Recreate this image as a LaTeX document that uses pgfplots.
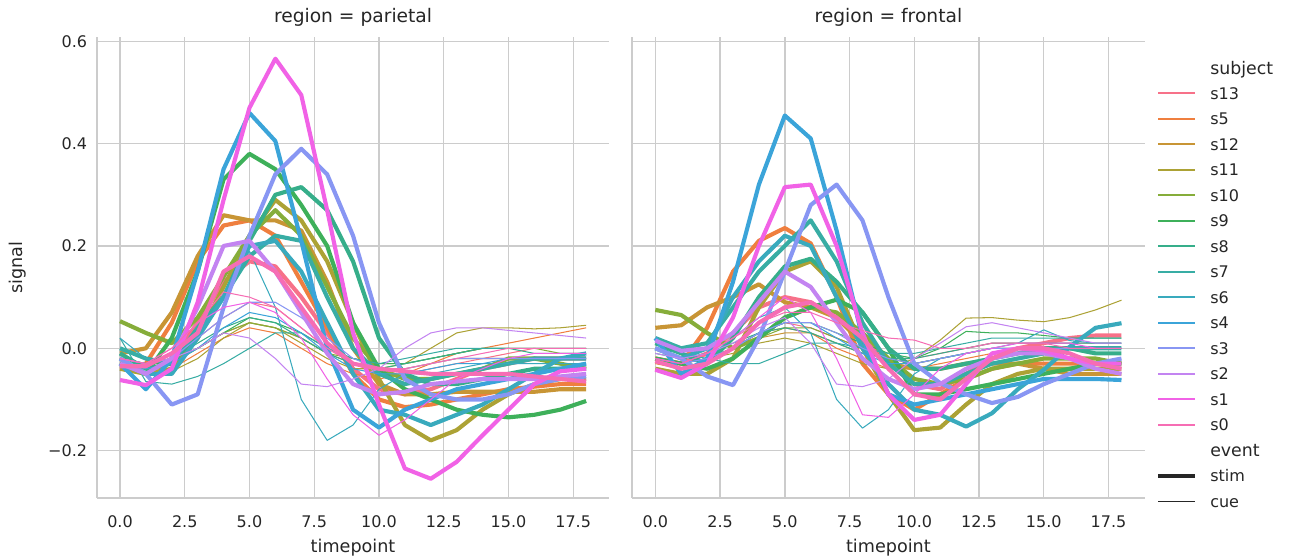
\documentclass[border=0pt]{standalone}
\usepackage{fontspec}
\setmainfont{DejaVu Sans}
\usepackage{pgfplots}
\usepackage{pgfplotstable}
\pgfplotsset{compat=1.18}

% subject colours (husl palette, 14 levels)
\definecolor{cs13}{HTML}{F77189}
\definecolor{cs5}{HTML}{EF7F3F}
\definecolor{cs12}{HTML}{C89535}
\definecolor{cs11}{HTML}{ACA235}
\definecolor{cs10}{HTML}{86AD3A}
\definecolor{cs9}{HTML}{3EB05A}
\definecolor{cs8}{HTML}{36AE8A}
\definecolor{cs7}{HTML}{38ADA4}
\definecolor{cs6}{HTML}{39AABD}
\definecolor{cs4}{HTML}{3BA4D9}
\definecolor{cs3}{HTML}{8896F3}
\definecolor{cs2}{HTML}{C384F1}
\definecolor{cs1}{HTML}{F162E6}
\definecolor{cs0}{HTML}{F66DB4}
\definecolor{gridc}{HTML}{CCCCCC}
\definecolor{textc}{HTML}{262626}

% one row per subject, one column per timepoint 0..18
\pgfplotstableread{
subj c0 c1 c2 c3 c4 c5 c6 c7 c8 c9 c10 c11 c12 c13 c14 c15 c16 c17 c18
s13 -0.03 -0.05 -0.02 0.05 0.13 0.17 0.16 0.10 0.03 -0.04 -0.08 -0.09 -0.08 -0.06 -0.04 -0.03 -0.02 -0.02 -0.02
s5 -0.04 -0.03 0.05 0.17 0.24 0.25 0.22 0.13 0.04 -0.05 -0.10 -0.115 -0.11 -0.10 -0.09 -0.08 -0.075 -0.07 -0.07
s12 -0.01 0.0 0.07 0.18 0.26 0.25 0.25 0.23 0.13 0.0 -0.07 -0.09 -0.09 -0.085 -0.085 -0.085 -0.085 -0.08 -0.08
s11 -0.04 -0.05 -0.04 0.02 0.12 0.22 0.29 0.25 0.17 0.05 -0.06 -0.15 -0.18 -0.16 -0.12 -0.09 -0.07 -0.06 -0.06
s10 0.053 0.03 0.01 0.06 0.14 0.22 0.27 0.22 0.12 0.02 -0.04 -0.06 -0.06 -0.05 -0.04 -0.02 -0.02 -0.03 -0.04
s9 -0.03 -0.05 0.02 0.15 0.33 0.38 0.35 0.28 0.20 0.05 -0.04 -0.08 -0.10 -0.12 -0.13 -0.135 -0.13 -0.12 -0.103
s8 -0.01 -0.04 -0.03 0.03 0.10 0.21 0.30 0.315 0.27 0.17 0.02 -0.05 -0.07 -0.07 -0.06 -0.05 -0.04 -0.04 -0.04
s7 0.0 -0.02 -0.03 0.04 0.10 0.18 0.22 0.21 0.10 0.0 -0.05 -0.07 -0.06 -0.05 -0.04 -0.03 -0.02 -0.02 -0.02
s6 -0.02 -0.05 -0.05 0.02 0.10 0.20 0.21 0.15 0.05 -0.05 -0.12 -0.13 -0.15 -0.13 -0.11 -0.08 -0.05 -0.02 -0.01
s4 -0.03 -0.08 -0.02 0.15 0.35 0.46 0.405 0.21 0.0 -0.12 -0.155 -0.12 -0.10 -0.08 -0.07 -0.06 -0.05 -0.04 -0.03
s3 -0.02 -0.05 -0.11 -0.09 0.08 0.22 0.34 0.39 0.34 0.22 0.05 -0.06 -0.09 -0.10 -0.10 -0.09 -0.07 -0.06 -0.055
s2 -0.03 -0.05 -0.02 0.08 0.20 0.21 0.15 0.07 -0.01 -0.07 -0.09 -0.085 -0.07 -0.065 -0.06 -0.06 -0.06 -0.055 -0.05
s1 -0.062 -0.072 -0.04 0.09 0.29 0.47 0.566 0.495 0.27 0.03 -0.11 -0.235 -0.255 -0.222 -0.17 -0.12 -0.07 -0.045 -0.04
s0 -0.035 -0.035 -0.01 0.03 0.15 0.18 0.15 0.08 0.01 -0.03 -0.04 -0.045 -0.05 -0.05 -0.05 -0.05 -0.055 -0.06 -0.065
}\parStimRows

\pgfplotstableread{
subj c0 c1 c2 c3 c4 c5 c6 c7 c8 c9 c10 c11 c12 c13 c14 c15 c16 c17 c18
s13 -0.02 -0.03 -0.02 0.02 0.06 0.09 0.08 0.04 0.0 -0.03 -0.05 -0.05 -0.04 -0.03 -0.02 -0.01 0.0 0.0 0.0
s5 -0.03 -0.04 -0.04 -0.01 0.02 0.04 0.03 0.0 -0.03 -0.05 -0.06 -0.05 -0.03 -0.01 0.0 0.01 0.02 0.03 0.04
s12 -0.03 -0.04 -0.03 0.0 0.03 0.05 0.04 0.02 -0.01 -0.03 -0.04 -0.04 -0.03 -0.02 -0.02 -0.02 -0.02 -0.02 -0.02
s11 -0.04 -0.05 -0.045 -0.02 0.02 0.05 0.04 0.01 -0.02 -0.04 -0.04 -0.03 0.0 0.03 0.04 0.04 0.038 0.04 0.045
s10 -0.02 -0.03 -0.02 0.0 0.03 0.05 0.04 0.02 -0.01 -0.02 -0.03 -0.03 -0.02 -0.01 0.0 0.0 0.0 -0.01 -0.01
s9 -0.02 -0.03 -0.03 0.0 0.03 0.06 0.05 0.03 0.0 -0.02 -0.03 -0.03 -0.02 -0.01 0.0 0.0 0.0 0.0 0.0
s8 -0.02 -0.03 -0.02 0.01 0.04 0.06 0.05 0.02 -0.01 -0.03 -0.04 -0.03 -0.02 -0.01 0.0 0.0 -0.01 -0.01 -0.01
s7 0.02 -0.065 -0.07 -0.055 -0.03 0.0 0.03 0.03 0.0 -0.02 -0.03 -0.02 -0.01 0.0 0.0 0.0 0.0 0.0 0.0
s6 0.02 -0.02 -0.03 0.03 0.10 0.19 0.08 -0.10 -0.18 -0.15 -0.08 -0.05 -0.05 -0.04 -0.03 -0.03 -0.03 -0.03 -0.03
s4 -0.03 -0.04 -0.03 0.0 0.04 0.07 0.06 0.03 -0.01 -0.04 -0.05 -0.05 -0.04 -0.03 -0.03 -0.02 -0.02 -0.02 -0.02
s3 -0.02 -0.03 -0.02 0.02 0.06 0.09 0.09 0.06 0.02 -0.02 -0.04 -0.04 -0.03 -0.02 -0.02 -0.02 -0.02 -0.02 -0.02
s2 -0.02 -0.03 -0.02 0.0 0.03 0.02 -0.02 -0.07 -0.075 -0.06 -0.04 0.0 0.03 0.04 0.04 0.035 0.03 0.025 0.02
s1 -0.02 -0.03 0.0 0.05 0.08 0.09 0.07 0.02 -0.06 -0.13 -0.17 -0.14 -0.10 -0.06 -0.04 -0.02 -0.01 -0.01 -0.01
s0 -0.02 -0.03 0.0 0.05 0.11 0.10 0.08 0.04 0.0 -0.03 -0.04 -0.04 -0.03 -0.02 -0.01 0.0 0.0 0.0 0.0
}\parCueRows

\pgfplotstableread{
subj c0 c1 c2 c3 c4 c5 c6 c7 c8 c9 c10 c11 c12 c13 c14 c15 c16 c17 c18
s13 -0.02 -0.03 -0.01 0.03 0.08 0.10 0.09 0.06 0.02 -0.03 -0.07 -0.08 -0.05 -0.02 0.0 0.01 0.02 0.025 0.025
s5 -0.02 -0.03 0.04 0.15 0.21 0.235 0.205 0.10 -0.03 -0.09 -0.12 -0.09 -0.06 -0.04 -0.03 -0.03 -0.03 -0.03 -0.03
s12 0.04 0.045 0.08 0.10 0.125 0.09 0.08 0.06 0.01 -0.03 -0.04 -0.04 -0.03 -0.03 -0.03 -0.04 -0.05 -0.05 -0.05
s11 -0.04 -0.05 -0.05 -0.02 0.08 0.15 0.17 0.12 0.0 -0.09 -0.16 -0.155 -0.11 -0.07 -0.05 -0.04 -0.04 -0.04 -0.04
s10 0.075 0.065 0.03 0.0 0.02 0.06 0.08 0.07 0.03 -0.02 -0.06 -0.07 -0.06 -0.04 -0.03 -0.02 -0.02 -0.02 -0.03
s9 -0.02 -0.03 -0.04 -0.02 0.02 0.06 0.08 0.095 0.07 0.0 -0.09 -0.09 -0.08 -0.07 -0.06 -0.05 -0.04 -0.03 -0.03
s8 0.01 -0.01 -0.03 0.02 0.10 0.16 0.175 0.13 0.07 0.0 -0.04 -0.04 -0.03 -0.02 -0.01 0.0 0.0 -0.01 -0.01
s7 0.02 0.0 0.01 0.08 0.15 0.20 0.25 0.17 0.05 -0.03 -0.07 -0.07 -0.05 -0.03 -0.02 -0.01 0.0 0.0 0.0
s6 0.0 -0.02 0.0 0.10 0.17 0.22 0.20 0.10 0.0 -0.07 -0.12 -0.13 -0.153 -0.127 -0.08 -0.042 0.003 0.04 0.049
s4 0.02 -0.05 -0.02 0.13 0.32 0.455 0.41 0.23 0.02 -0.09 -0.11 -0.10 -0.09 -0.08 -0.07 -0.06 -0.06 -0.06 -0.062
s3 0.0 -0.02 -0.055 -0.072 0.02 0.15 0.28 0.32 0.25 0.10 -0.03 -0.068 -0.09 -0.107 -0.095 -0.07 -0.05 -0.03 -0.02
s2 0.015 -0.005 0.0 0.03 0.09 0.15 0.12 0.05 -0.02 -0.06 -0.08 -0.07 -0.04 -0.02 -0.01 -0.01 -0.02 -0.04 -0.05
s1 -0.042 -0.058 -0.03 0.06 0.20 0.315 0.32 0.20 0.03 -0.09 -0.14 -0.13 -0.07 -0.01 0.0 -0.004 -0.02 -0.03 -0.03
s0 -0.025 -0.04 -0.03 0.0 0.05 0.08 0.09 0.06 0.02 -0.04 -0.09 -0.10 -0.06 -0.02 0.0 0.0 -0.01 -0.03 -0.04
}\froStimRows

\pgfplotstableread{
subj c0 c1 c2 c3 c4 c5 c6 c7 c8 c9 c10 c11 c12 c13 c14 c15 c16 c17 c18
s13 -0.02 -0.03 -0.02 0.0 0.03 0.05 0.04 0.02 0.0 -0.02 -0.02 -0.01 0.0 0.01 0.01 0.01 0.01 0.01 0.01
s5 -0.03 -0.04 -0.03 0.0 0.03 0.04 0.03 0.0 -0.02 -0.04 -0.04 -0.03 -0.02 -0.01 0.0 0.0 0.0 0.0 0.0
s12 -0.02 -0.03 -0.02 0.0 0.02 0.03 0.03 0.01 -0.01 -0.02 -0.03 -0.02 -0.01 0.0 0.0 0.0 0.0 0.0 0.0
s11 -0.02 -0.03 -0.02 -0.01 0.01 0.02 0.01 -0.01 -0.03 -0.04 -0.02 0.016 0.059 0.06 0.055 0.052 0.06 0.075 0.094
s10 -0.02 -0.03 -0.02 0.0 0.02 0.04 0.04 0.02 0.0 -0.02 -0.03 -0.02 -0.01 0.0 0.0 0.0 0.0 0.0 0.0
s9 -0.02 -0.03 -0.02 0.0 0.03 0.05 0.05 0.03 0.01 -0.01 -0.02 0.0 0.033 0.03 0.03 0.025 0.02 0.02 0.02
s8 -0.01 -0.02 -0.01 0.01 0.03 0.04 0.03 0.01 -0.01 -0.02 -0.02 -0.01 0.0 0.01 0.01 0.01 0.01 0.01 0.01
s7 0.0 -0.01 -0.02 -0.03 -0.03 -0.01 0.01 0.01 0.0 -0.01 -0.01 0.0 0.01 0.02 0.02 0.02 0.02 0.02 0.02
s6 -0.02 -0.03 -0.02 0.02 0.06 0.08 0.03 -0.10 -0.156 -0.12 -0.05 -0.02 -0.01 0.0 0.01 0.036 0.015 0.01 0.01
s4 -0.02 -0.03 -0.02 0.0 0.03 0.05 0.05 0.02 -0.01 -0.03 -0.03 -0.02 -0.01 0.0 0.0 0.0 0.0 0.0 0.0
s3 -0.02 -0.03 -0.02 0.0 0.03 0.05 0.05 0.03 0.0 -0.02 -0.03 -0.02 -0.01 0.0 0.0 0.0 0.0 0.0 0.0
s2 -0.01 -0.02 -0.01 0.01 0.04 0.06 0.01 -0.07 -0.075 -0.06 -0.02 0.01 0.042 0.05 0.04 0.03 0.02 0.01 0.01
s1 -0.02 -0.03 -0.01 0.02 0.06 0.10 0.07 -0.02 -0.13 -0.135 -0.09 -0.04 -0.01 0.0 0.01 0.01 0.01 0.0 0.0
s0 -0.02 -0.03 -0.01 0.02 0.05 0.07 0.07 0.05 0.035 0.02 0.016 0.0 0.0 0.01 0.01 0.01 0.0 0.0 0.0
}\froCueRows

% columns become subjects, rows become timepoints
\pgfplotstabletranspose[colnames from=subj]{\parStim}{\parStimRows}
\pgfplotstabletranspose[colnames from=subj]{\parCue}{\parCueRows}
\pgfplotstabletranspose[colnames from=subj]{\froStim}{\froStimRows}
\pgfplotstabletranspose[colnames from=subj]{\froCue}{\froCueRows}

\pgfplotsset{
  every axis title shift=0pt,
  fmri/.style={
    scale only axis, width=384.6pt, height=345.4pt,
    xmin=-0.9, xmax=18.9, ymin=-0.2926, ymax=0.6075,
    xtick={0,2.5,5,7.5,10,12.5,15,17.5},
    xticklabels={0.0,2.5,5.0,7.5,10.0,12.5,15.0,17.5},
    ytick={-0.2,0,0.2,0.4,0.6},
    axis x line*=bottom, axis y line*=left,
    axis line style={draw=gridc, line width=1.3pt, -},
    major tick length=0pt,
    grid=major, major grid style={draw=gridc, line width=1.04pt},
    tick label style={font=\fontsize{12}{14}\selectfont, text=textc},
    xticklabel style={anchor=base, inner sep=0pt, yshift=-21.8pt},
    yticklabel style={anchor=east, inner sep=0pt, xshift=-7pt},
    label style={font=\fontsize{13.2}{16}\selectfont, text=textc},
    xlabel={timepoint},
    xlabel style={at={(axis description cs:0.5,-0.1187)}, anchor=base},
    title style={font=\fontsize{14}{17}\selectfont, text=textc,
      at={(axis description cs:0.5,1.0316)}, anchor=base, yshift=0pt},
  },
  stim/.style={line width=3.1pt, line join=round},
  cue/.style={line width=0.78pt, line join=round},
}

\begin{document}
\begin{tikzpicture}[font=\fontsize{12}{14}\selectfont]
\path[use as bounding box] (0pt,0pt) rectangle (969.75pt,419.25pt);

\begin{axis}[fmri, at={(72.5pt,45.75pt)}, anchor=south west,
  title={region = parietal},
  yticklabels={−0.2,0.0,0.2,0.4,0.6},
  ylabel={signal},
  ylabel style={at={(axis description cs:-0.1448,0.5)}, anchor=base}]
\pgfplotsinvokeforeach{s13,s5,s12,s11,s10,s9,s8,s7,s6,s4,s3,s2,s1,s0}{
  \addplot[c#1, stim] table[x expr=\coordindex, y=#1] {\parStim};
  \addplot[c#1, cue] table[x expr=\coordindex, y=#1] {\parCue};
}
\end{axis}

\begin{axis}[fmri, at={(474pt,45.75pt)}, anchor=south west,
  title={region = frontal},
  yticklabels={,,,,}]
\pgfplotsinvokeforeach{s13,s5,s12,s11,s10,s9,s8,s7,s6,s4,s3,s2,s1,s0}{
  \addplot[c#1, stim] table[x expr=\coordindex, y=#1] {\froStim};
  \addplot[c#1, cue] table[x expr=\coordindex, y=#1] {\froCue};
}
\end{axis}

% legend
\begin{scope}[text=textc]
\node[anchor=base west, inner sep=0pt, font=\fontsize{13}{15}\selectfont] at (907.5pt,363.7pt) {subject};
\foreach \lab/\col [count=\k] in {s13/cs13,s5/cs5,s12/cs12,s11/cs11,s10/cs10,s9/cs9,s8/cs8,s7/cs7,s6/cs6,s4/cs4,s3/cs3,s2/cs2,s1/cs1,s0/cs0}{
  \pgfmathsetmacro\yy{368.25-19.125*\k}
  \pgfmathsetmacro\yb{\yy-4.4}
  \draw[\col, line width=1.5pt] (868.5pt,\yy pt) -- (896.25pt,\yy pt);
  \node[anchor=base west, inner sep=0pt] at (907.5pt,\yb pt) {\lab};
}
\node[anchor=base west, inner sep=0pt, font=\fontsize{13}{15}\selectfont] at (907.5pt,76.9pt) {event};
\draw[textc, line width=3.1pt] (868.5pt,62.25pt) -- (896.25pt,62.25pt);
\node[anchor=base west, inner sep=0pt] at (907.5pt,57.85pt) {stim};
\draw[textc, line width=0.78pt] (868.5pt,43.1pt) -- (896.25pt,43.1pt);
\node[anchor=base west, inner sep=0pt] at (907.5pt,38.7pt) {cue};
\end{scope}
\end{tikzpicture}
\end{document}
